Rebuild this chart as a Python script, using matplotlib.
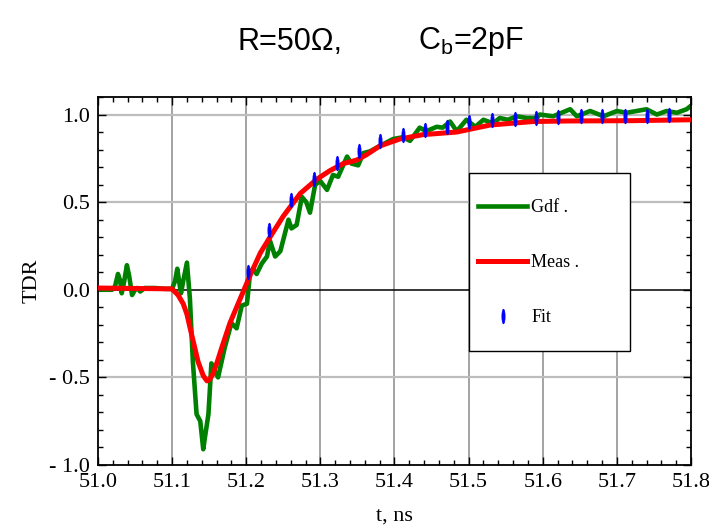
import numpy as np
import matplotlib
matplotlib.use('Agg')
import matplotlib.pyplot as plt
from matplotlib.path import Path
from matplotlib.transforms import Affine2D
from matplotlib.ticker import MultipleLocator, FixedLocator, FixedFormatter

# Gdf (green) trace
gdf_t = [51.000, 51.009, 51.019, 51.023, 51.027, 51.030, 51.032, 51.035, 51.039, 51.042,
         51.046, 51.050, 51.053, 51.057, 51.063, 51.077, 51.090, 51.100, 51.104, 51.107,
         51.109, 51.112, 51.115, 51.120, 51.124, 51.128, 51.133, 51.138, 51.142, 51.144,
         51.149, 51.153, 51.156, 51.162, 51.171, 51.180, 51.187, 51.194, 51.201, 51.205,
         51.209, 51.214, 51.221, 51.228, 51.232, 51.239, 51.246, 51.257, 51.261, 51.268,
         51.275, 51.281, 51.286, 51.293, 51.300, 51.309, 51.317, 51.324, 51.336, 51.342,
         51.351, 51.358, 51.367, 51.380, 51.398, 51.411, 51.421, 51.434, 51.443, 51.457,
         51.465, 51.475, 51.484, 51.497, 51.509, 51.520, 51.533, 51.542, 51.553, 51.565,
         51.578, 51.592, 51.596, 51.614, 51.637, 51.646, 51.664, 51.682, 51.700, 51.713,
         51.740, 51.754, 51.767, 51.781, 51.794, 51.800]
gdf_v = [0.00, 0.00, 0.00, 0.02, 0.09, 0.05, -0.02, 0.04, 0.14, 0.08,
         -0.03, 0.00, 0.01, -0.01, 0.01, 0.01, 0.005, 0.005, 0.05, 0.12,
         0.06, -0.02, 0.05, 0.155, -0.05, -0.41, -0.71, -0.75, -0.91, -0.85,
         -0.71, -0.42, -0.45, -0.50, -0.33, -0.19, -0.22, -0.09, -0.08, 0.09,
         0.12, 0.09, 0.15, 0.19, 0.28, 0.19, 0.22, 0.40, 0.35, 0.37,
         0.53, 0.50, 0.44, 0.60, 0.62, 0.57, 0.655, 0.645, 0.76, 0.72,
         0.71, 0.78, 0.79, 0.82, 0.86, 0.87, 0.85, 0.925, 0.905, 0.93,
         0.925, 0.96, 0.905, 0.97, 0.93, 0.97, 0.95, 0.98, 0.97, 0.99,
         0.98, 0.98, 1.00, 0.99, 1.03, 0.99, 1.02, 0.99, 1.02, 1.01,
         1.03, 1.00, 1.02, 1.01, 1.03, 1.05]

# Meas (red) trace
meas_t = [51.000, 51.100, 51.101, 51.108, 51.115, 51.120, 51.126, 51.135, 51.142, 51.147,
          51.151, 51.155, 51.161, 51.167, 51.178, 51.186, 51.194, 51.205, 51.219, 51.232,
          51.250, 51.273, 51.295, 51.313, 51.331, 51.349, 51.362, 51.380, 51.407, 51.438,
          51.484, 51.529, 51.587, 51.632, 51.722, 51.800]
meas_v = [0.01, 0.005, 0.00, -0.03, -0.08, -0.14, -0.25, -0.41, -0.49, -0.52,
          -0.51, -0.48, -0.41, -0.33, -0.19, -0.11, -0.03, 0.08, 0.21, 0.30,
          0.42, 0.55, 0.63, 0.68, 0.72, 0.74, 0.77, 0.82, 0.86, 0.885,
          0.90, 0.94, 0.96, 0.963, 0.965, 0.97]

# Fit (blue) points
fit_t = [51.202, 51.231, 51.261, 51.292, 51.322, 51.352, 51.381, 51.411, 51.441, 51.471,
         51.501, 51.531, 51.562, 51.591, 51.621, 51.651, 51.680, 51.711, 51.741, 51.771]
fit_v = [0.10, 0.34, 0.51, 0.63, 0.725, 0.79, 0.85, 0.885, 0.914, 0.93,
         0.955, 0.967, 0.975, 0.98, 0.986, 0.99, 0.99, 0.994, 0.994, 0.997]

x_ticks = [51.0, 51.1, 51.2, 51.3, 51.4, 51.5, 51.6, 51.7, 51.8]
y_ticks = [-1.0, -0.5, 0.0, 0.5, 1.0]
y_labels = ['- 1.0', '- 0.5', '0.0', '0.5', '1.0']

plt.rcParams['font.family'] = ['Liberation Serif', 'DejaVu Serif']

fig = plt.figure(figsize=(7.09, 5.28), dpi=100)
ax = fig.add_axes([0.1382, 0.1193, 0.8364, 0.697])

for x in x_ticks[1:-1]:
    ax.axvline(x, color='#8a8a8a', lw=1.1, zorder=0)
for y in (-0.5, 0.5, 1.0):
    ax.axhline(y, color='#bdbdbd', lw=1.6, zorder=0)
ax.axhline(0.0, color='black', lw=1.1, zorder=1)

ax.plot(gdf_t, gdf_v, color='#008000', lw=3.3, label='Gdf .', zorder=2)
ax.plot(meas_t, meas_v, color='#ff0000', lw=3.6, label='Meas .', zorder=3)
ellipse = Path.unit_circle().transformed(Affine2D().scale(0.22, 1.0))
ax.plot(fit_t, fit_v, ls='none', marker=ellipse, ms=10.5, color='#0000ff',
        mec='#0000ff', mew=0.5, label='Fit', zorder=4)

ax.set_xlim(51.0, 51.8)
ax.set_ylim(-1.0, 1.1)
ax.xaxis.set_major_locator(FixedLocator(x_ticks))
ax.xaxis.set_minor_locator(MultipleLocator(0.02))
ax.set_xticklabels(['%.1f' % v for v in x_ticks])
ax.yaxis.set_major_locator(FixedLocator(y_ticks))
ax.yaxis.set_major_formatter(FixedFormatter(y_labels))
ax.yaxis.set_minor_locator(MultipleLocator(0.1))
ax.tick_params(which='both', direction='in', top=True, right=True, labelsize=16, width=1)
ax.tick_params(which='major', length=6)
ax.tick_params(which='minor', length=3.5)
ax.tick_params(axis='x', pad=6)
ax.tick_params(axis='y', pad=6)
for s in ax.spines.values():
    s.set_linewidth(1.3)

ax.set_xlabel('t, ns', fontsize=16, labelpad=10)
ax.set_ylabel('TDR', fontsize=16, labelpad=5)

# tall legend rows; handles are then moved down to line up with the text
leg = ax.legend(loc='upper left', bbox_to_anchor=(0.626, 0.793, 0.2715, 0.0), mode='expand',
                fontsize=13, frameon=True, fancybox=False, framealpha=1, edgecolor='black',
                borderpad=0.5, labelspacing=0.3, handleheight=3.85, handlelength=2.7,
                handletextpad=0.25, numpoints=1, borderaxespad=0)
leg.get_frame().set_linewidth(1.0)
for h in leg.legend_handles:
    h.set_ydata(np.asarray(h.get_ydata(), dtype=float) - 6.5)

title_font = ['Liberation Sans', 'DejaVu Sans']
fig.text(342 / 709, 1 - 42 / 528, 'R=50Ω,', family=title_font, fontsize=22,
         ha='right', va='center')
fig.text(418 / 709, 1 - 42 / 528, r'C$_\mathregular{b}$=2pF', family=title_font, fontsize=22,
         ha='left', va='center')

fig.savefig('out.png', dpi=100)
